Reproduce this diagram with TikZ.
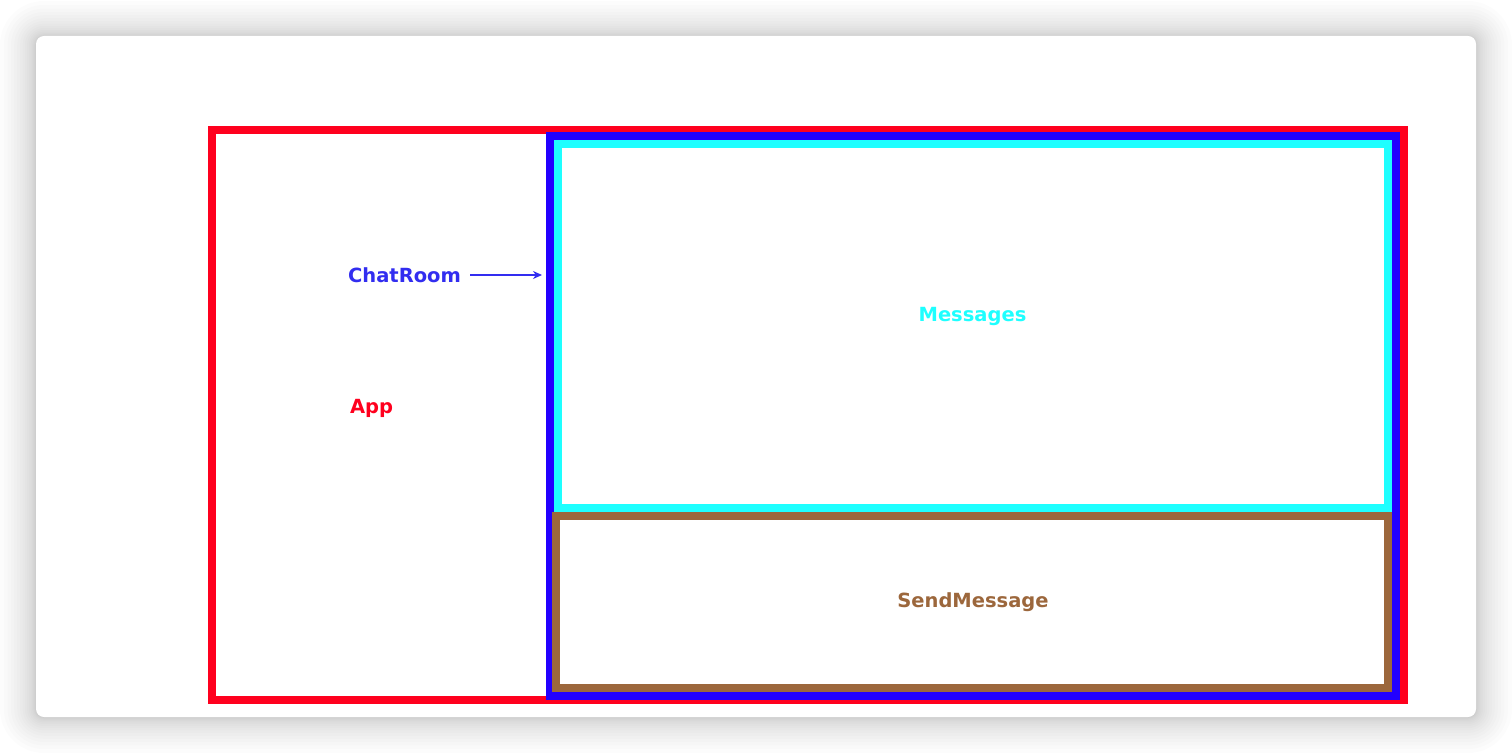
\documentclass[tikz,border=0pt]{standalone}
\usepackage{fontspec}
\setmainfont{DejaVu Sans}
\usetikzlibrary{arrows.meta}

\definecolor{appred}{RGB}{255,0,30}
\definecolor{roomblue}{RGB}{34,0,255}
\definecolor{msgcyan}{RGB}{30,255,255}
\definecolor{sendbrown}{RGB}{156,103,60}
\definecolor{roomlabel}{RGB}{50,45,240}

\tikzset{
  frame/.style={draw=#1, line width=8pt, rectangle, inner sep=0pt, outer sep=0pt},
  label text/.style={text=#1, inner sep=0pt, font=\bfseries\fontsize{19.5}{22}\selectfont},
}

\begin{document}
\begin{tikzpicture}[x=1pt, y=-1pt]
  \useasboundingbox (0,0) rectangle (1512,754);
  \fill[white] (0,0) rectangle (1512,754);

  % soft shadow around the card, denser close to its edge
  \foreach \i in {1,...,18} {
    \pgfmathsetmacro{\d}{\i*\i/9}
    \fill[black, opacity=0.013, rounded corners={8pt+\d pt}]
      ({36-\d},{36-\d+1}) rectangle ({1476+\d},{717+\d});
  }
  % card
  \fill[white, rounded corners=8pt] (36,36) rectangle (1476,717);

  % component frames
  \node[frame=appred,    minimum width=1192pt, minimum height=570pt] (app)  at (808,415) {};
  \node[frame=roomblue,  minimum width=846pt,  minimum height=560pt] (room) at (973,416) {};
  \node[frame=msgcyan,   minimum width=830pt,  minimum height=364pt] (msgs) at (973,326) {};
  \node[frame=sendbrown, minimum width=832pt,  minimum height=172pt] (send) at (972,602) {};

  % labels
  \node[label text=roomlabel] (roomname) at (404.5,275) {ChatRoom};
  \node[label text=appred]    (appname)  at (371.5,408) {App};
  \node[label text=msgcyan]   (msgsname) at (972.5,316) {Messages};
  \node[label text=sendbrown] (sendname) at (973,602)   {SendMessage};

  % pointer from the ChatRoom label to its frame
  \draw[roomlabel, line width=1.8pt, -{Stealth[length=9pt,width=8pt]},
        shorten <=9pt, shorten >=8pt]
    (roomname.east) -- (room.west |- roomname.east);
\end{tikzpicture}
\end{document}
